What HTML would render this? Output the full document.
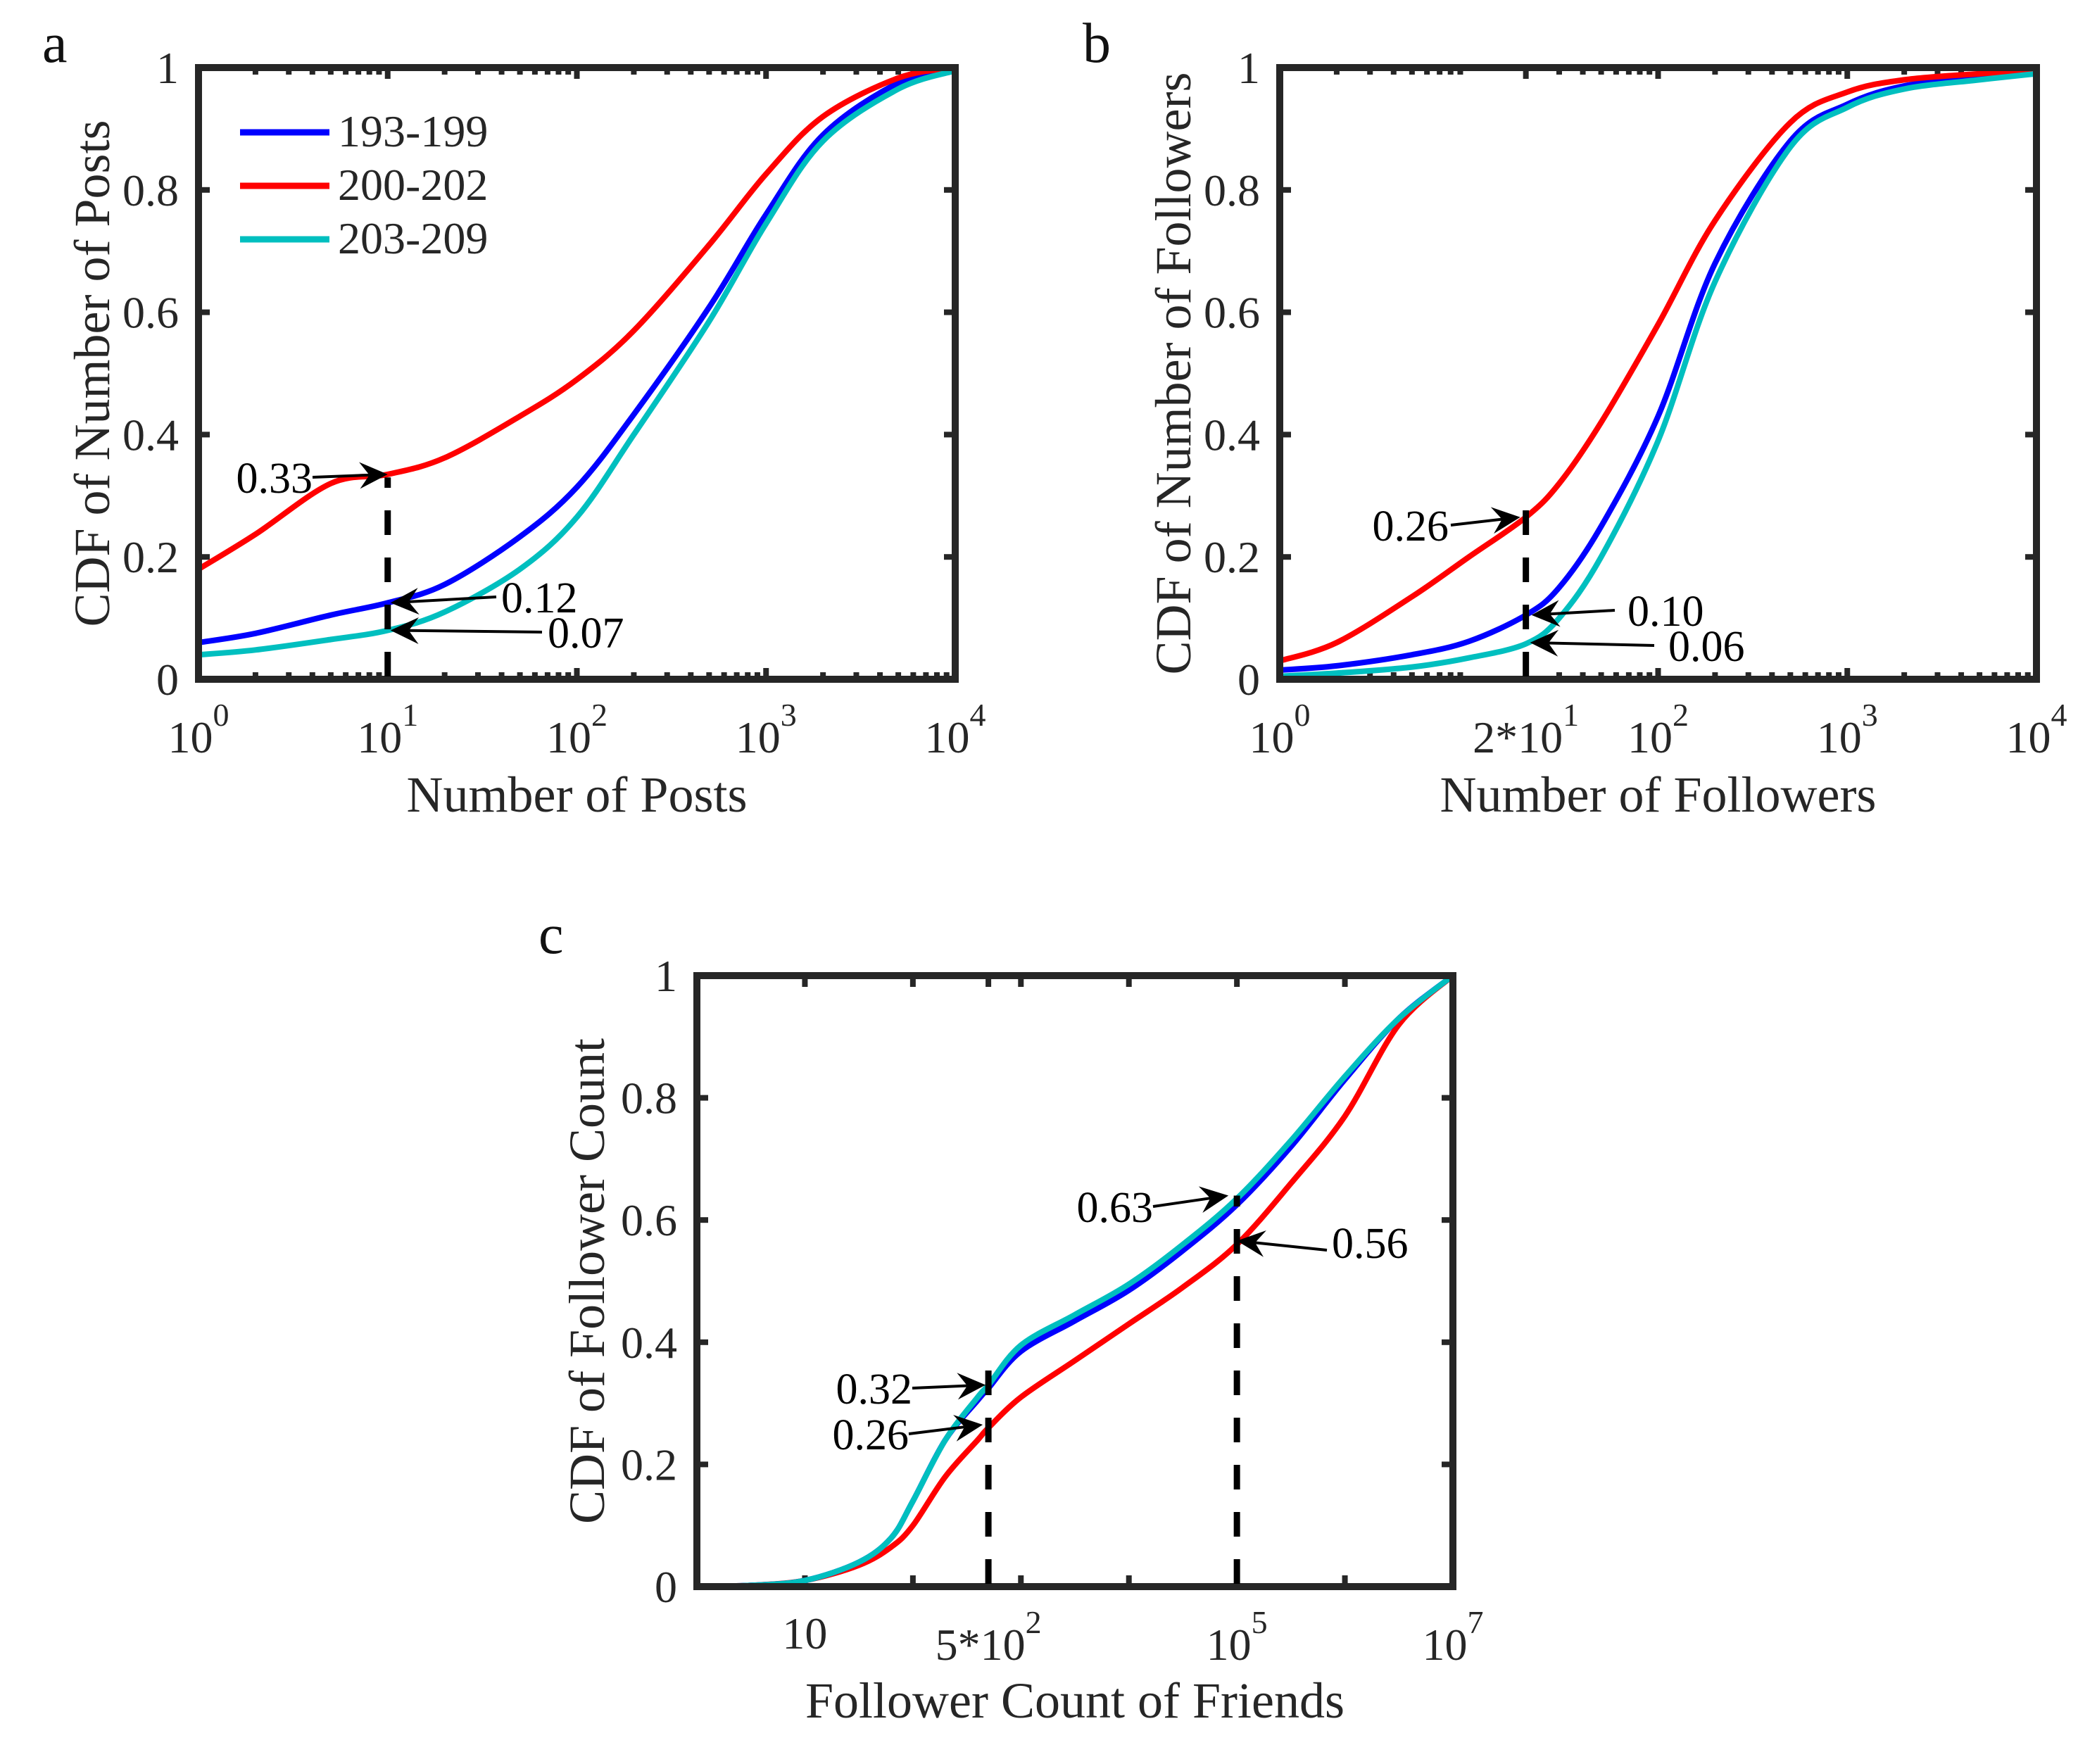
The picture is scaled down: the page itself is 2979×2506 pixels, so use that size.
<!DOCTYPE html>
<html><head><meta charset="utf-8">
<style>
html,body{margin:0;padding:0;background:#fff;}
svg{display:block;font-family:"Liberation Serif",serif;}
</style></head>
<body>
<svg id="fig" xmlns="http://www.w3.org/2000/svg" width="2979" height="2506" viewBox="0 0 2979 2506">
<rect width="2979" height="2506" fill="#fff"/>
</svg>
<script>
// ---- Panel a data (Number of Posts) ----
const aX = [1,2,5,10,20,50,100,200,500,1000,2000,5000,10000];
const aRed  = [0.18,0.237,0.32,0.335,0.362,0.43,0.49,0.57,0.71,0.826,0.92,0.983,1.0];
const aBlue = [0.06,0.075,0.105,0.125,0.155,0.233,0.314,0.433,0.608,0.76,0.89,0.975,1.0];
const aCyan = [0.04,0.048,0.065,0.08,0.11,0.18,0.265,0.4,0.585,0.745,0.88,0.965,0.995];
// ---- Panel b data (Number of Followers) ----
const bX = [1,2,5,10,20,30,50,100,200,500,1000,2000,5000,10000];
const bRed  = [0.03,0.06,0.135,0.2,0.265,0.32,0.42,0.58,0.75,0.91,0.96,0.98,0.99,0.995];
const bBlue = [0.015,0.022,0.04,0.062,0.105,0.15,0.25,0.43,0.68,0.88,0.94,0.97,0.985,0.99];
const bCyan = [0.005,0.01,0.02,0.035,0.058,0.1,0.2,0.39,0.65,0.87,0.935,0.965,0.98,0.99];
// ---- Panel c data (Follower Count of Friends), x as log10 exponents ----
const cLogX = [0,0.5,1,1.5,1.8,2,2.3,2.6,2.7,3,3.5,4,4.5,5,5.5,6,6.5,7];
const cCyan = [0,0.002,0.01,0.04,0.08,0.14,0.24,0.31,0.33,0.395,0.445,0.495,0.56,0.635,0.73,0.835,0.93,1.0];
const cBlue = [0,0.002,0.01,0.04,0.08,0.14,0.24,0.305,0.325,0.385,0.435,0.485,0.55,0.625,0.72,0.83,0.93,1.0];
const cRed  = [0,0.002,0.01,0.035,0.065,0.1,0.18,0.24,0.26,0.31,0.37,0.43,0.49,0.56,0.66,0.77,0.92,1.0];
const yTicks = [0,0.2,0.4,0.6,0.8,1];
const yTickLabels = ["0","0.2","0.4","0.6","0.8","1"];
const seriesNames = ["193-199","200-202","203-209"];

const NS="http://www.w3.org/2000/svg";
const svg=document.getElementById('fig');
function mk(tag,attrs,parent){const e=document.createElementNS(NS,tag);for(const k in attrs)e.setAttribute(k,attrs[k]);(parent||svg).appendChild(e);return e;}
const FRAME="#262626";

function smoothPath(pts){
  let d='M'+pts[0][0].toFixed(1)+','+pts[0][1].toFixed(1);
  for(let i=0;i<pts.length-1;i++){
    const p0=pts[Math.max(0,i-1)],p1=pts[i],p2=pts[i+1],p3=pts[Math.min(pts.length-1,i+2)];
    const c1=[p1[0]+(p2[0]-p0[0])/6,p1[1]+(p2[1]-p0[1])/6];
    const c2=[p2[0]-(p3[0]-p1[0])/6,p2[1]-(p3[1]-p1[1])/6];
    d+=` C${c1[0].toFixed(1)},${c1[1].toFixed(1)} ${c2[0].toFixed(1)},${c2[1].toFixed(1)} ${p2[0].toFixed(1)},${p2[1].toFixed(1)}`;
  }
  return d;
}

function makePanel(p){
  const g=mk('g',{});
  
  
  const sx=v=>p.x0+(Math.log10(v)-p.lmin)/(p.lmax-p.lmin)*(p.x1-p.x0);
  const sy=v=>p.y1-v*(p.y1-p.y0);
  p.sx=sx;p.sy=sy;p.g=g;
  const tg=mk('g',{stroke:FRAME,'stroke-width':8},g);
  
  
  yTicks.forEach((t,i)=>{
    const y=sy(t);
    mk('line',{x1:p.x0,y1:y,x2:p.x0+16,y2:y},tg);
    mk('line',{x1:p.x1,y1:y,x2:p.x1-16,y2:y},tg);
    const tl=mk('text',{x:p.x0-28,y:y+22,'text-anchor':'end','font-size':64,fill:FRAME},g);
    tl.textContent=yTickLabels[i];
    
    
  });
  p.majors.forEach(v=>{const x=sx(v);
    mk('line',{x1:x,y1:p.y1,x2:x,y2:p.y1-16},tg);mk('line',{x1:x,y1:p.y0,x2:x,y2:p.y0+16},tg);});
  (p.minors||[]).forEach(v=>{const x=sx(v);
    mk('line',{x1:x,y1:p.y1,x2:x,y2:p.y1-10},tg);mk('line',{x1:x,y1:p.y0,x2:x,y2:p.y0+10},tg);});
  p.xLabels.forEach(l=>{
    const x=sx(l.v);
    const t=mk('text',{x:x,y:l.sup?p.xlBase:p.xlBase-16,'text-anchor':'middle','font-size':64,fill:FRAME},g);
    
    
    t.appendChild(document.createTextNode(l.base));
    if(l.sup){const s=mk('tspan',{'font-size':46,dy:-38},t);s.textContent=l.sup;}
  });
  p.series.forEach(s=>{
    const pts=s.y.map((v,i)=>[sx(s.x[i]),sy(v)]);
    const path=mk('path',{d:smoothPath(pts),fill:'none',stroke:s.color,'stroke-width':8,'stroke-linejoin':'round','stroke-linecap':'round'},g);
    
    
  });
  const fr=mk('rect',{x:p.x0,y:p.y0,width:p.x1-p.x0,height:p.y1-p.y0,fill:'none',stroke:FRAME,'stroke-width':10},g);
  
  
  const xt=mk('text',{x:(p.x0+p.x1)/2,y:p.xtBase,'text-anchor':'middle','font-size':72,fill:FRAME},g);
  xt.textContent=p.xTitle;
  
  
  const yt=mk('text',{x:0,y:0,'text-anchor':'middle','font-size':72,fill:FRAME,transform:`translate(${p.ytX},${(p.y0+p.y1)/2}) rotate(-90)`},g);
  yt.textContent=p.yTitle;
  
  
  const pl=mk('text',{x:p.letterX,y:p.letterY,'font-size':80,fill:'#111'},g);
  pl.textContent=p.letter;
  
  
  return p;
}
function minorsFor(lo,hi){const m=[];for(let e=lo;e<hi;e++)for(let k=2;k<=9;k++)m.push(k*Math.pow(10,e));return m;}

function dashed(p,xv,yTop){
  const x=p.sx(xv);
  const l=mk('line',{x1:x,y1:p.y1-4,x2:x,y2:p.sy(yTop),stroke:'#000','stroke-width':9,'stroke-dasharray':'35 32'},p.g);
  
  
}
function arrow(p,tipX,tipY,fromX,fromY,label,labelX,labelY,anchor){
  const g=mk('g',{},p.g);
  
  
  const dx=tipX-fromX,dy=tipY-fromY,L=Math.hypot(dx,dy),ux=dx/L,uy=dy/L,nx=-uy,ny=ux;
  const bx=tipX-ux*40,by=tipY-uy*40,cx=tipX-ux*26,cy=tipY-uy*26;
  mk('line',{x1:fromX,y1:fromY,x2:cx,y2:cy,stroke:'#000','stroke-width':4},g);
  mk('path',{d:`M${tipX},${tipY} L${bx+nx*19},${by+ny*19} L${cx},${cy} L${bx-nx*19},${by-ny*19} Z`,fill:'#000'},g);
  const t=mk('text',{x:labelX,y:labelY,'text-anchor':anchor,'font-size':62,fill:'#000'},g);
  t.textContent=label;
}

const colors={blue:'#0000ff',red:'#ff0000',cyan:'#00bfbf'};

const A=makePanel({name:'panel-a',x0:282,x1:1357,y0:96,y1:965,lmin:0,lmax:4,
  majors:[1,10,100,1000,10000],minors:minorsFor(0,4),
  xLabels:[{v:1,base:'10',sup:'0'},{v:10,base:'10',sup:'1'},{v:100,base:'10',sup:'2'},{v:1000,base:'10',sup:'3'},{v:10000,base:'10',sup:'4'}],
  xlBase:1069,xtBase:1153,ytX:155,xTitle:'Number of Posts',yTitle:'CDF of Number of Posts',letter:'a',letterX:60,letterY:88,
  series:[{name:'line-193-199',x:aX,y:aBlue,color:colors.blue},{name:'line-200-202',x:aX,y:aRed,color:colors.red},{name:'line-203-209',x:aX,y:aCyan,color:colors.cyan}]});
dashed(A,10,0.33);
arrow(A,A.sx(10),A.sy(0.335),444,678,'0.33',444,700,'end');
arrow(A,A.sx(10)+4,A.sy(0.125),705,848,'0.12',712,870,'start');
arrow(A,A.sx(10)+4,A.sy(0.08),770,898,'0.07',778,920,'start');
const lg=mk('g',{});


[colors.blue,colors.red,colors.cyan].forEach((c,i)=>{
  const y=188+i*76;
  const e=mk('g',{},lg);
  
  
  mk('line',{x1:341,y1:y,x2:468,y2:y,stroke:c,'stroke-width':9},e);
  const t=mk('text',{x:480,y:y+20,'font-size':64,fill:FRAME},e);
  t.textContent=seriesNames[i];
});

const B=makePanel({name:'panel-b',x0:1818,x1:2893,y0:96,y1:965,lmin:0,lmax:4,
  majors:[1,20,100,1000,10000],minors:minorsFor(0,4).filter(v=>v!==20),
  xLabels:[{v:1,base:'10',sup:'0'},{v:20,base:'2*10',sup:'1'},{v:100,base:'10',sup:'2'},{v:1000,base:'10',sup:'3'},{v:10000,base:'10',sup:'4'}],
  xlBase:1069,xtBase:1153,ytX:1691,xTitle:'Number of Followers',yTitle:'CDF of Number of Followers',letter:'b',letterX:1538,letterY:88,
  series:[{name:'line-193-199',x:bX,y:bBlue,color:colors.blue},{name:'line-200-202',x:bX,y:bRed,color:colors.red},{name:'line-203-209',x:bX,y:bCyan,color:colors.cyan}]});
dashed(B,20,0.28);
arrow(B,B.sx(20)-8,B.sy(0.265),2061,746,'0.26',2058,768,'end');
arrow(B,B.sx(20)+8,B.sy(0.105),2294,867,'0.10',2312,889,'start');
arrow(B,B.sx(20)+6,B.sy(0.06),2350,917,'0.06',2370,939,'start');

const cX=cLogX.map(v=>Math.pow(10,v));
const C=makePanel({name:'panel-c',x0:990,x1:2064,y0:1386,y1:2254,lmin:0,lmax:7,
  majors:[10,100,500,1000,10000,100000,1000000],minors:[],
  xLabels:[{v:10,base:'10'},{v:500,base:'5*10',sup:'2'},{v:100000,base:'10',sup:'5'},{v:10000000,base:'10',sup:'7'}],
  xlBase:2358,xtBase:2440,ytX:858,xTitle:'Follower Count of Friends',yTitle:'CDF of Follower Count',letter:'c',letterX:765,letterY:1354,
  series:[{name:'line-200-202',x:cX,y:cRed,color:colors.red},{name:'line-193-199',x:cX,y:cBlue,color:colors.blue},{name:'line-203-209',x:cX,y:cCyan,color:colors.cyan}]});
dashed(C,500,0.37);
dashed(C,100000,0.64);
arrow(C,C.sx(500)-4,C.sy(0.33),1296,1972,'0.32',1296,1994,'end');
arrow(C,C.sx(500)-8,C.sy(0.265),1291,2037,'0.26',1291,2059,'end');
arrow(C,C.sx(100000)-12,C.sy(0.64),1638,1714,'0.63',1638,1736,'end');
arrow(C,C.sx(100000),C.sy(0.566),1885,1776,'0.56',1892,1787,'start');
</script>
</body></html>
